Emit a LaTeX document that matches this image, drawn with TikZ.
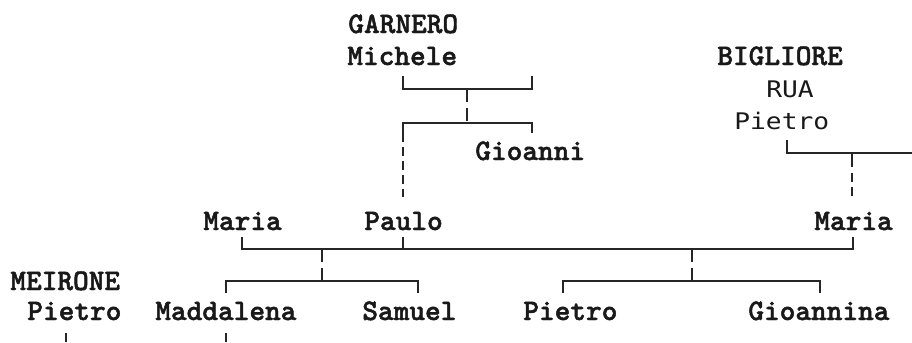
\documentclass[tikz,border=0pt]{standalone}
\usepackage{fontspec}
\newfontfamily\namefont[FakeBold=1.6]{lmmonolt10-bold.otf}
\newfontfamily\ruafont[FakeStretch=1.15]{DejaVu Sans Mono}
\usetikzlibrary{positioning}

\begin{document}
\begin{tikzpicture}[
      x=0.02cm, y=-0.02cm,
      person/.style={anchor=base west, inner sep=0pt, text=black!90,
        font=\fontsize{17}{20}\selectfont\namefont},
      alias/.style={anchor=base west, inner sep=0pt, text=black!90,
        font=\fontsize{13}{15}\selectfont\ruafont},
      bar/.style={line width=0.7pt, draw=black!85},
      stem/.style={bar, dash pattern=on 7.5pt off 3.4pt},
      descent/.style={bar, dash pattern=on 5pt off 3pt}]
    \useasboundingbox (0,0) rectangle (912,342);

    % GARNERO line
    \node[person] (garnero) at (348,33) {GARNERO};
    \node[person] (michele) at (347,65) {Michele};
    \node[person] (gioanni) at (475,160) {Gioanni};
    \coordinate (michL) at (403,76);
    \coordinate (michR) at (532,76);
    \coordinate (michMid) at (467,89);
    \coordinate (sonsMid) at (467,123);
    \coordinate (sonsL) at (403,133);
    \coordinate (sonsR) at (532,133);
    \draw[bar] (michL) -- (403,89) -| (michR);
    \draw[stem] (michMid) -- (sonsMid);
    \draw[bar] (sonsL) |- (sonsMid) -| (sonsR);

    % BIGLIORE line
    \node[person] (bigliore) at (717,65) {BIGLIORE};
    \node[alias] (rua) at (766,97) {RUA};
    \node[alias] (ruaPietro) at (734,129) {Pietro};
    \coordinate (ruaFoot) at (787,140);
    \coordinate (ruaEnd) at (912,153);
    \coordinate (ruaMid) at (852,153);
    \coordinate (ruaStem) at (852,167);
    \coordinate (ruaDash) at (852,173);
    \draw[bar] (ruaFoot) |- (ruaEnd);
    \draw[bar] (ruaMid) -- (ruaStem);

    % couple row
    \node[person] (mariaL) at (203,230) {Maria};
    \node[person] (paulo) at (364,230) {Paulo};
    \node[person] (mariaR) at (814,230) {Maria};
    \coordinate (pauloHead) at (403,197);
    \coordinate (mariaHead) at (852,197);
    \draw[descent] (sonsL) -- (pauloHead);
    \draw[descent] (ruaDash) -- (mariaHead);
    \coordinate (mariaLFoot) at (242,237);
    \coordinate (mariaRFoot) at (853,237);
    \coordinate (pauloFoot) at (403,237);
    \draw[bar] (mariaLFoot) -- (242,249) -| (mariaRFoot);
    \draw[bar] (pauloFoot) -- (403,249);

    % children
    \coordinate (firstTop) at (322,249);
    \coordinate (firstMid) at (322,281);
    \coordinate (secondTop) at (692,249);
    \coordinate (secondMid) at (692,281);
    \draw[stem] (firstTop) -- (firstMid);
    \draw[stem] (secondTop) -- (secondMid);
    \draw[bar] (226,293) |- (firstMid) -| (418,293);
    \draw[bar] (563,293) |- (secondMid) -| (820,293);

    \node[person] (meirone) at (10,290) {MEIRONE};
    \node[person] (meironePietro) at (27,320) {Pietro};
    \node[person] (maddalena) at (155,320) {Maddalena};
    \node[person] (samuel) at (362,320) {Samuel};
    \node[person] (pietro) at (523,320) {Pietro};
    \node[person] (gioannina) at (748,320) {Gioannina};
    \draw[bar] (66,333) -- (66,342);
    \draw[bar] (226,333) -- (226,342);
  \end{tikzpicture}
\end{document}
